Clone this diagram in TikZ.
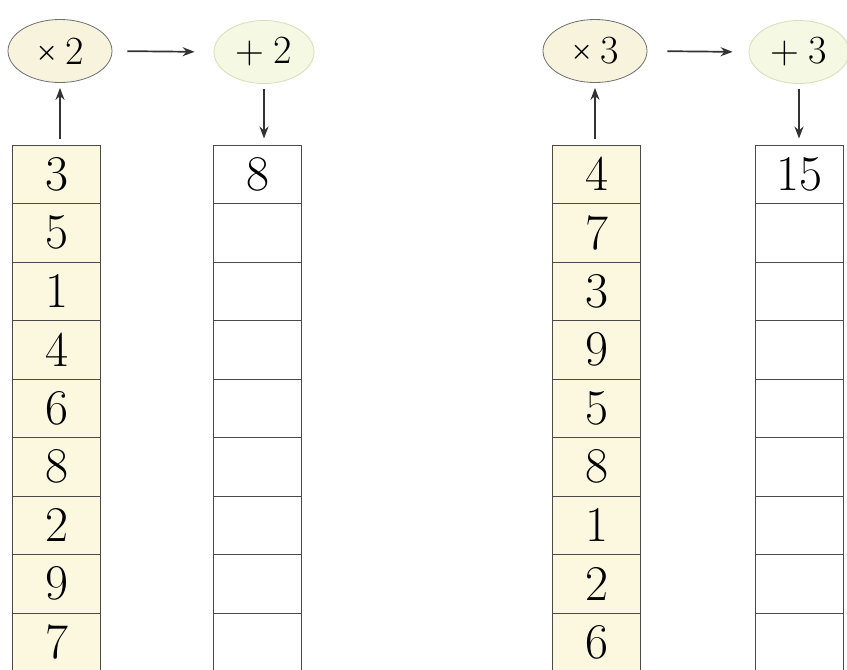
\documentclass[tikz,border=0pt]{standalone}
\usetikzlibrary{arrows.meta,shapes.geometric}
\definecolor{cellyellow}{HTML}{FBF8DF}
\definecolor{timesfill}{HTML}{F8F3DC}
\definecolor{plusfill}{HTML}{F5F8E2}
\definecolor{plusline}{HTML}{D8DDB8}
\definecolor{gridline}{HTML}{4A4A4A}
\definecolor{ovalline}{HTML}{707070}
\newcommand{\smtimes}{\raisebox{5pt}{\fontsize{30}{32}\selectfont\boldmath$\times$}}
\begin{document}
\begin{tikzpicture}[x=1pt,y=-1pt,
  cellin/.style={draw=gridline, line width=1pt, fill=cellyellow, minimum width=88pt, minimum height=58.5pt, inner sep=0pt, font=\fontsize{50}{54}\selectfont},
  cellout/.style={draw=gridline, line width=1pt, fill=white, minimum width=88pt, minimum height=58.5pt, inner sep=0pt, font=\fontsize{50}{54}\selectfont},
  opx/.style={ellipse, draw=ovalline, line width=0.8pt, fill=timesfill, minimum width=104pt, minimum height=63pt, inner sep=0pt, font=\fontsize{40}{44}\selectfont},
  opp/.style={ellipse, draw=plusline, line width=0.8pt, fill=plusfill, minimum width=100pt, minimum height=63pt, inner sep=0pt, font=\fontsize{40}{44}\selectfont},
  arr/.style={draw=black!80, line width=1.7pt, -{Stealth[length=12pt,width=9pt]}}
]
\useasboundingbox (0,0) rectangle (847,670);
\fill[white] (0,0) rectangle (847,670);

% operation ellipses
\node[opx] (m1) at (60,51) {\smtimes\hspace{8pt}2};
\node[opp] (p1) at (264,52) {+\hspace{9pt}2};
\node[opx] (m2) at (595,51) {\smtimes\hspace{8pt}3};
\node[opp] (p2) at (799,52) {+\hspace{9pt}3};

% columns
\foreach \v [count=\i] in {3,5,1,4,6,8,2,9,7} {
  \node[cellin] (a\i) at (56.5,{145+29.25+(\i-1)*58.5}) {\raisebox{-3pt}{\v}};
  \node[cellout] (b\i) at (257.5,{145+29.25+(\i-1)*58.5}) {};
}
\foreach \v [count=\i] in {4,7,3,9,5,8,1,2,6} {
  \node[cellin] (c\i) at (596.5,{145+29.25+(\i-1)*58.5}) {\raisebox{-3pt}{\v}};
  \node[cellout] (d\i) at (799,{145+29.25+(\i-1)*58.5}) {};
}
\node[font=\fontsize{50}{54}\selectfont] (b1t) at (b1) {\raisebox{-3pt}{8}};
\node[font=\fontsize{50}{54}\selectfont] (d1t) at (d1) {\raisebox{-3pt}{15}};

% arrows
\draw[arr, shorten <=6pt, shorten >=5pt] (m1.south |- a1.north) -- (m1.south);
\draw[arr, shorten <=15pt, shorten >=19pt] (m1.east) -- (p1.west);
\draw[arr, shorten <=5pt, shorten >=6pt] (p1.south) -- (p1.south |- b1.north);
\draw[arr, shorten <=6pt, shorten >=5pt] (m2.south |- c1.north) -- (m2.south);
\draw[arr, shorten <=20pt, shorten >=16pt] (m2.east) -- (p2.west);
\draw[arr, shorten <=5pt, shorten >=6pt] (p2.south) -- (p2.south |- d1.north);
\end{tikzpicture}
\end{document}
